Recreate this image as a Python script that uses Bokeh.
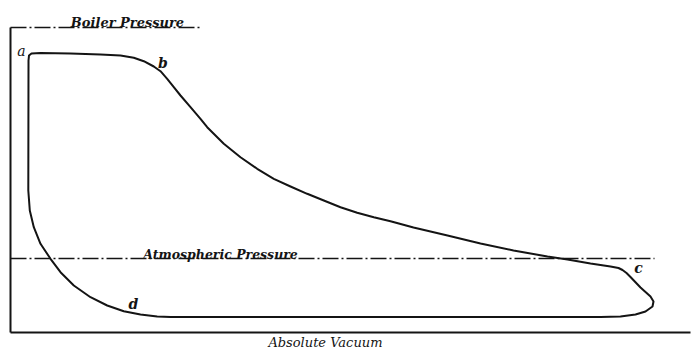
from bokeh.plotting import figure
from bokeh.models import Range1d
from bokeh.core.properties import value
from bokeh.embed import file_html
from bokeh.resources import INLINE

# Indicator diagram: volume (arbitrary units) vs pressure (arbitrary units, vacuum = 0)
volume = [19, 19.5, 22, 31, 61, 91, 111, 124.3, 134.3, 144.3, 151, 157.7, 164.3, 171,
          181, 191, 197.7, 214.3, 231, 247.7, 264.3, 281, 297.7, 314.3, 331, 347.7,
          364.3, 381, 404, 438, 471, 504, 538, 558, 581, 601, 609, 613, 617, 621, 631,
          641, 644, 643, 636, 626, 611, 591, 161, 147.7, 131, 114.3, 97.7, 81, 64.3,
          51, 41, 31, 24.3, 20.3, 18.8, 19]
pressure = [272, 277, 279, 279.5, 279, 278, 277, 274.7, 271.3, 266, 261.3, 253.7, 245.3,
            237, 225.3, 213.7, 205.3, 188.7, 175.3, 163.7, 153.7, 146, 138.7, 132, 125.3,
            119.7, 115.3, 111.3, 105, 97, 89, 82, 76, 73, 69, 66, 64.5, 62.5, 59.5, 55.5,
            45, 36, 31, 26, 21, 18, 16, 15.5, 15.5, 16, 18, 21.3, 27, 35.3, 47, 60.3,
            73.7, 88.7, 105.3, 122, 142, 272]

boiler_p = 305
atmos_p = 74
vacuum_p = 0
boiler_end = 191
atmos_end = 645
vacuum_end = 681
axis_x = 1

point_labels = ["a", "b", "c", "d"]
label_x = [12, 153.5, 629, 124]
label_y = [282, 269.5, 64.5, 29]
label_styles = ["italic", "bold italic", "bold italic", "bold italic"]

ink = "#141414"

p = figure(width=695, height=350, x_range=Range1d(-9, 686), y_range=Range1d(-18, 332),
           output_backend="svg", toolbar_location=None, min_border=0,
           x_axis_location=None, y_axis_location=None)
p.grid.visible = False
p.outline_line_color = None
p.background_fill_color = "white"

# reference lines
p.line([axis_x, axis_x], [vacuum_p, boiler_p], line_color=ink, line_width=2)
p.line([axis_x, vacuum_end], [vacuum_p, vacuum_p], line_color=ink, line_width=2)
p.line([axis_x, boiler_end], [boiler_p, boiler_p], line_color=ink, line_width=1.5,
       line_dash="16 3 2 3")
p.line([axis_x, atmos_end], [atmos_p, atmos_p], line_color=ink, line_width=1.5,
       line_dash="16 3 2 3")

# the diagram
p.line(volume, pressure, line_color=ink, line_width=2, line_join="round")

font = value("DejaVu Serif")
p.text([118], [boiler_p + 5], text=["Boiler Pressure"], text_font=font,
       text_font_style="bold italic", text_font_size="13px", text_align="center",
       text_baseline="alphabetic", text_color=ink)
p.text([211], [atmos_p + 4], text=["Atmospheric Pressure"], text_font=font,
       text_font_style="bold italic", text_font_size="12.5px", text_align="center",
       text_baseline="alphabetic", text_color=ink)
p.text([318], [-10], text=["Absolute  Vacuum"], text_font=font,
       text_font_style="italic", text_font_size="13px", text_align="center",
       text_baseline="middle", text_color=ink)

for lx, ly, lt, ls in zip(label_x, label_y, point_labels, label_styles):
    p.text([lx], [ly], text=[lt], text_font=font,
           text_font_style=ls, text_font_size="14px", text_align="center",
           text_baseline="middle", text_color=ink)

open("out.html", "w").write(file_html(p, INLINE))
